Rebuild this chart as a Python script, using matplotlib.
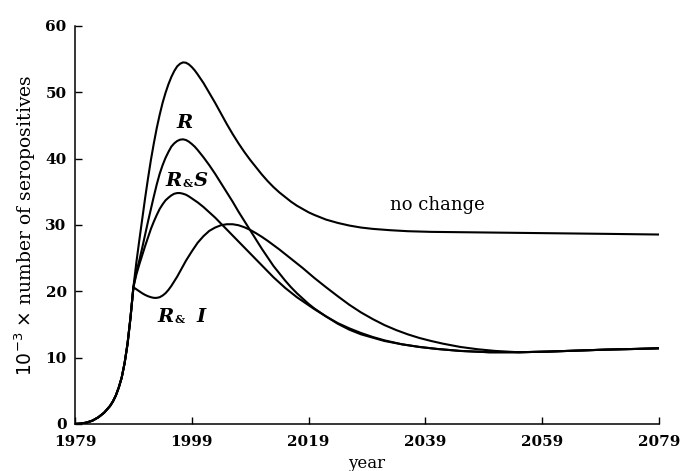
import matplotlib
matplotlib.use("Agg")
import matplotlib.pyplot as plt

# shared rise before the scenarios split (year, 10^-3 x seropositives)
base_years = [1979, 1980, 1981, 1982, 1983, 1984, 1985, 1985.5, 1986, 1986.5,
              1987, 1987.5, 1988, 1988.5, 1989]
base_vals = [0.0, 0.05, 0.2, 0.5, 1.0, 1.7, 2.7, 3.4, 4.3, 5.5,
             7.0, 9.2, 12.1, 16.0, 20.6]

# no change
nc_years = [1989.5, 1990, 1990.5, 1991, 1991.5, 1992, 1992.5, 1993, 1993.5, 1994,
            1994.5, 1995, 1995.5, 1996, 1996.5, 1997, 1997.5, 1998, 1998.5, 1999,
            1999.5, 2000, 2001, 2002, 2003, 2004, 2005, 2006, 2007, 2008,
            2009, 2010, 2011, 2012, 2013, 2014, 2015, 2016, 2017, 2018,
            2019, 2020, 2022, 2024, 2026, 2028, 2030, 2033, 2036, 2040,
            2050, 2060, 2070, 2079]
nc_vals = [24.3, 27.6, 30.8, 34.0, 37.0, 39.8, 42.3, 44.6, 46.6, 48.4,
           49.9, 51.2, 52.3, 53.2, 53.9, 54.3, 54.5, 54.45, 54.2, 53.8,
           53.3, 52.7, 51.4, 49.9, 48.4, 46.8, 45.2, 43.7, 42.3, 41.0,
           39.8, 38.7, 37.6, 36.6, 35.7, 34.9, 34.2, 33.5, 32.9, 32.4,
           31.9, 31.5, 30.8, 30.3, 29.9, 29.6, 29.4, 29.2, 29.05, 28.95,
           28.85, 28.75, 28.65, 28.55]

# R
r_years = [1989.5, 1990, 1990.5, 1991, 1991.5, 1992, 1992.5, 1993, 1993.5, 1994,
           1994.5, 1995, 1995.5, 1996, 1996.5, 1997, 1997.5, 1998, 1998.5, 1999,
           1999.5, 2000, 2001, 2002, 2003, 2004, 2005, 2006, 2007, 2008,
           2009, 2010, 2011, 2012, 2013, 2014, 2015, 2016, 2017, 2018,
           2019, 2020, 2022, 2024, 2026, 2028, 2030, 2032, 2035, 2038,
           2041, 2045, 2050, 2055, 2060, 2065, 2070, 2075, 2079]
r_vals = [22.9, 24.6, 26.5, 28.5, 30.5, 32.4, 34.3, 36.1, 37.7, 39.0,
          40.1, 41.0, 41.8, 42.3, 42.65, 42.85, 42.9, 42.8, 42.55, 42.2,
          41.8, 41.3, 40.2, 39.0, 37.7, 36.3, 34.9, 33.5, 32.0, 30.6,
          29.2, 27.8, 26.4, 25.1, 23.8, 22.7, 21.6, 20.6, 19.7, 18.9,
          18.1, 17.4, 16.2, 15.2, 14.4, 13.7, 13.1, 12.6, 12.0, 11.6,
          11.3, 11.0, 10.8, 10.8, 10.9, 11.05, 11.2, 11.3, 11.4]

# R & S
rs_years = [1989.5, 1990, 1990.5, 1991, 1991.5, 1992, 1992.5, 1993, 1993.5, 1994,
            1994.5, 1995, 1995.5, 1996, 1996.5, 1997, 1997.5, 1998, 1998.5, 1999,
            2000, 2001, 2002, 2003, 2004, 2005, 2006, 2007, 2008, 2009,
            2010, 2011, 2012, 2013, 2014, 2015, 2016, 2017, 2018, 2019,
            2020, 2022, 2024, 2026, 2028, 2030, 2032, 2035, 2038, 2041,
            2045, 2050, 2055, 2060, 2065, 2070, 2075, 2079]
rs_vals = [22.5, 24.0, 25.4, 26.8, 28.1, 29.4, 30.5, 31.5, 32.4, 33.1,
           33.7, 34.1, 34.45, 34.7, 34.8, 34.8, 34.7, 34.55, 34.3, 34.0,
           33.4, 32.7, 31.9, 31.1, 30.2, 29.3, 28.4, 27.5, 26.6, 25.7,
           24.8, 23.9, 23.0, 22.1, 21.3, 20.5, 19.8, 19.1, 18.5, 17.9,
           17.3, 16.2, 15.1, 14.2, 13.5, 13.0, 12.5, 12.0, 11.6, 11.3,
           11.0, 10.8, 10.8, 10.9, 11.05, 11.2, 11.3, 11.4]

# R & I
ri_years = [1989.5, 1990, 1990.5, 1991, 1991.5, 1992, 1992.5, 1993, 1993.5, 1994,
            1994.5, 1995, 1995.5, 1996, 1996.5, 1997, 1997.5, 1998, 1998.5, 1999,
            2000, 2001, 2002, 2003, 2004, 2005, 2006, 2007, 2008, 2009,
            2010, 2011, 2012, 2013, 2014, 2015, 2016, 2017, 2018, 2019,
            2020, 2021, 2022, 2024, 2026, 2028, 2030, 2032, 2034, 2036,
            2038, 2040, 2042, 2045, 2048, 2051, 2055, 2060, 2065, 2070,
            2075, 2079]
ri_vals = [20.3, 20.0, 19.7, 19.45, 19.25, 19.1, 19.0, 19.0, 19.1, 19.35,
           19.7, 20.2, 20.8, 21.5, 22.2, 23.0, 23.8, 24.6, 25.3, 26.0,
           27.3, 28.3, 29.1, 29.6, 29.95, 30.1, 30.1, 29.95, 29.65, 29.25,
           28.75, 28.2, 27.6, 26.95, 26.3, 25.6, 24.9, 24.2, 23.5, 22.75,
           22.0, 21.3, 20.6, 19.25, 17.95, 16.8, 15.8, 14.9, 14.15, 13.5,
           12.95, 12.5, 12.1, 11.6, 11.25, 11.0, 10.8, 10.9, 11.05, 11.2,
           11.3, 11.4]

x_ticks = [1979, 1999, 2019, 2039, 2059, 2079]
y_ticks = [0, 10, 20, 30, 40, 50, 60]

plt.rcParams["font.family"] = ["DejaVu Serif"]

fig = plt.figure(figsize=(6.82, 4.71), dpi=100)
ax = fig.add_axes([0.110, 0.100, 0.856, 0.845])

for yrs, vals in [(nc_years, nc_vals), (r_years, r_vals),
                  (rs_years, rs_vals), (ri_years, ri_vals)]:
    ax.plot(base_years + yrs, base_vals + vals, color="black", lw=1.5,
            solid_joinstyle="round")

ax.set_xlim(1979, 2079)
ax.set_ylim(0, 60)
ax.set_xticks(x_ticks)
ax.set_yticks(y_ticks)
ax.set_xticklabels([str(t) for t in x_ticks], fontweight="bold", fontsize=11)
ax.set_yticklabels([str(t) for t in y_ticks], fontweight="bold", fontsize=11)
ax.tick_params(direction="in", length=5, width=1)
ax.tick_params(axis="x", pad=8)
ax.tick_params(axis="y", pad=6)
for side in ["top", "right"]:
    ax.spines[side].set_visible(False)
for side in ["left", "bottom"]:
    ax.spines[side].set_linewidth(1.1)

ax.set_xlabel("year", fontsize=12, labelpad=4)
ax.set_ylabel(r"$10^{-3}$ $\times$ number of seropositives", fontsize=13.5,
              labelpad=5)


def scen_label(x, y, left, right=None, gap=0):
    kw = dict(fontsize=14, fontweight="bold", style="italic", va="center")
    if right is None:
        ax.text(x, y, left, ha="center", **kw)
        return
    ax.annotate("&", (x, y), xytext=(0, -2), textcoords="offset points",
                ha="center", va="center", fontsize=8, fontweight="bold")
    ax.annotate(left, (x, y), xytext=(-4, 0), textcoords="offset points",
                ha="right", **kw)
    ax.annotate(right, (x, y), xytext=(4 + gap, 0), textcoords="offset points",
                ha="left", **kw)


scen_label(1997.7, 45.4, "R")
scen_label(1998.3, 36.6, "R", "S")
scen_label(1996.9, 16.1, "R", "I", gap=8)
ax.text(2041.1, 33.0, "no change", fontsize=13, ha="center", va="center")

fig.savefig("out.png", dpi=100)
